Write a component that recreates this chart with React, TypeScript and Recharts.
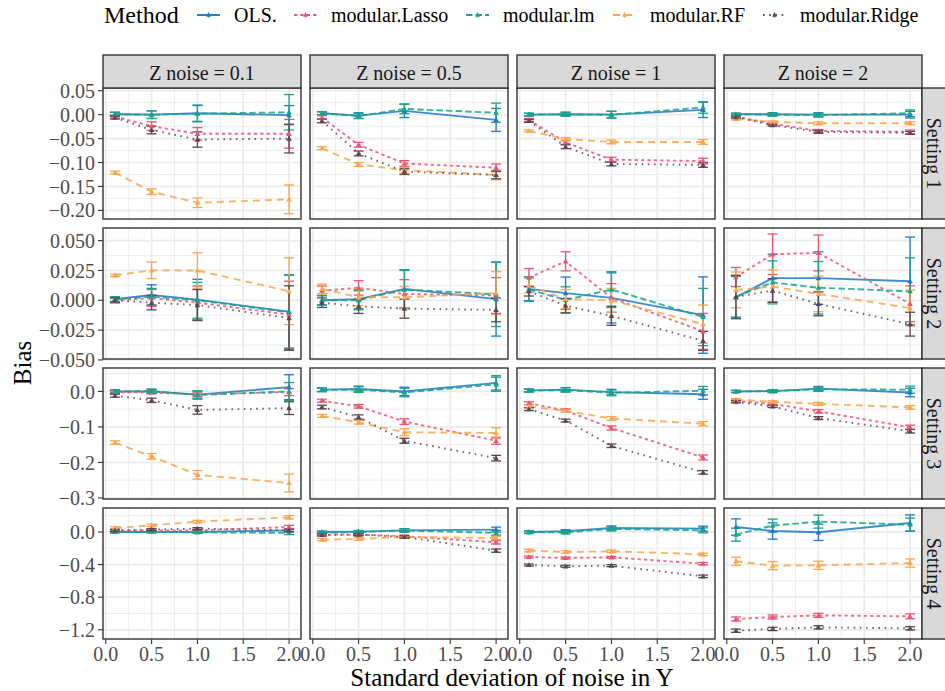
import React from 'react';
import { LineChart, Line, XAxis, YAxis, CartesianGrid, ErrorBar } from 'recharts';

const FONT = '"Liberation Serif", "Times New Roman", serif';

// ---------- categories / labels ----------
const sdY = [0.1, 0.5, 1, 2];
const zNoiseLabels = ['Z noise = 0.1', 'Z noise = 0.5', 'Z noise = 1', 'Z noise = 2'];
const settingLabels = ['Setting 1', 'Setting 2', 'Setting 3', 'Setting 4'];
const methodNames = ['OLS.', 'modular.Lasso', 'modular.lm', 'modular.RF', 'modular.Ridge'];
const methodKeys = ['ols', 'lasso', 'lm', 'rf', 'ridge'];
const methodColors = ['#1F78C8', '#EE5470', '#18A683', '#F9A64C', '#5D4653'];
const methodDash = ['', '3.2 3.2', '6.4 3.2', '7 5', '1.6 4.6'];

const xTicks = [0, 0.5, 1, 1.5, 2];
const xMinor = [0.25, 0.75, 1.25, 1.75];
const xDomain = [-0.03, 2.13];

const yTicks1 = [-0.2, -0.15, -0.1, -0.05, 0, 0.05];
const yTicks2 = [-0.05, -0.025, 0, 0.025, 0.05];
const yTicks3 = [-0.3, -0.2, -0.1, 0];
const yTicks4 = [-1.2, -0.8, -0.4, 0];
const yMinor1 = [-0.175, -0.125, -0.075, -0.025, 0.025];
const yMinor2 = [-0.0375, -0.0125, 0.0125, 0.0375];
const yMinor3 = [-0.25, -0.15, -0.05, 0.05];
const yMinor4 = [-1.0, -0.6, -0.2, 0.2];
const yDomain1 = [-0.218, 0.0557];
const yDomain2 = [-0.0492, 0.0606];
const yDomain3 = [-0.303, 0.066];
const yDomain4 = [-1.313, 0.294];
const yDecimals = [2, 3, 1, 1];

// ---------- values: each array = [Z noise 0.1, 0.5, 1, 2], each inner = sd of noise in Y [0.1, 0.5, 1, 2] ----------
// Setting 1
const s1Ols = [[0.001, 0.0, 0.003, -0.001], [0.003, -0.002, 0.008, -0.011], [0.0, 0.001, 0.0, 0.01], [0.001, 0.001, 0.0, 0.0]];
const s1OlsErr = [[0.004, 0.008, 0.017, 0.02], [0.003, 0.006, 0.014, 0.024], [0.003, 0.004, 0.007, 0.016], [0.002, 0.003, 0.004, 0.007]];
const s1Lasso = [[-0.004, -0.024, -0.04, -0.04], [-0.006, -0.063, -0.102, -0.111], [-0.011, -0.058, -0.094, -0.097], [-0.004, -0.019, -0.034, -0.036]];
const s1LassoErr = [[0.003, 0.009, 0.013, 0.03], [0.004, 0.005, 0.006, 0.008], [0.003, 0.004, 0.005, 0.006], [0.002, 0.003, 0.003, 0.004]];
const s1Lm = [[0.001, 0.0, 0.002, 0.005], [0.003, -0.003, 0.012, 0.004], [0.0, 0.001, 0.0, 0.015], [0.001, 0.0, -0.001, 0.003]];
const s1LmErr = [[0.004, 0.008, 0.017, 0.037], [0.003, 0.005, 0.01, 0.02], [0.003, 0.004, 0.007, 0.012], [0.002, 0.003, 0.004, 0.007]];
const s1Rf = [[-0.121, -0.161, -0.184, -0.177], [-0.07, -0.104, -0.116, -0.126], [-0.034, -0.051, -0.057, -0.057], [-0.009, -0.015, -0.018, -0.018]];
const s1RfErr = [[0.003, 0.006, 0.01, 0.03], [0.003, 0.004, 0.006, 0.01], [0.002, 0.003, 0.004, 0.005], [0.002, 0.002, 0.003, 0.003]];
const s1Ridge = [[-0.006, -0.032, -0.052, -0.05], [-0.013, -0.081, -0.119, -0.126], [-0.013, -0.067, -0.103, -0.105], [-0.005, -0.022, -0.036, -0.038]];
const s1RidgeErr = [[0.003, 0.008, 0.016, 0.03], [0.004, 0.005, 0.006, 0.008], [0.003, 0.004, 0.004, 0.005], [0.002, 0.002, 0.003, 0.003]];

// Setting 2
const s2Ols = [[0.001, 0.0045, 0.0006, -0.0096], [0.0, 0.001, 0.0096, 0.001], [0.0096, 0.006, 0.002, -0.0124], [0.0025, 0.0186, 0.0186, 0.016]];
const s2OlsErr = [[0.002, 0.0085, 0.017, 0.031], [0.004, 0.008, 0.016, 0.031], [0.01, 0.0135, 0.021, 0.032], [0.018, 0.02, 0.022, 0.037]];
const s2Lasso = [[0.0, 0.002, -0.002, -0.012], [0.008, 0.0104, 0.0053, 0.004], [0.0189, 0.0327, 0.002, -0.026], [0.0195, 0.0386, 0.0397, -0.003]];
const s2LassoErr = [[0.002, 0.007, 0.014, 0.028], [0.004, 0.006, 0.012, 0.015], [0.0077, 0.008, 0.012, 0.015], [0.008, 0.017, 0.015, 0.015]];
const s2Lm = [[0.001, 0.003, 0.0, -0.01], [0.0, 0.0, 0.009, 0.005], [0.009, 0.0003, 0.009, -0.014], [0.003, 0.015, 0.0105, 0.0076]];
const s2LmErr = [[0.002, 0.007, 0.015, 0.031], [0.004, 0.008, 0.016, 0.027], [0.01, 0.011, 0.015, 0.024], [0.017, 0.018, 0.022, 0.028]];
const s2Rf = [[0.0209, 0.0251, 0.025, 0.0076], [0.0096, 0.0025, 0.0025, 0.006], [0.0124, 0.001, 0.0, -0.02], [0.0087, 0.0115, 0.0054, -0.0065]];
const s2RfErr = [[0.001, 0.0069, 0.0148, 0.028], [0.004, 0.007, 0.009, 0.018], [0.006, 0.008, 0.01, 0.016], [0.015, 0.014, 0.015, 0.015]];
const s2Ridge = [[0.0, -0.002, -0.004, -0.0149], [-0.002, -0.005, -0.007, -0.008], [0.0076, -0.0045, -0.013, -0.034], [0.003, 0.0081, -0.003, -0.02]];
const s2RidgeErr = [[0.002, 0.006, 0.013, 0.027], [0.004, 0.006, 0.008, 0.01], [0.004, 0.006, 0.008, 0.008], [0.018, 0.01, 0.01, 0.01]];

// Setting 3
const s3Ols = [[0.0, 0.0, -0.009, 0.012], [0.005, 0.007, 0.0, 0.024], [0.003, 0.005, -0.002, -0.008], [0.0, 0.001, 0.008, -0.003]];
const s3OlsErr = [[0.004, 0.005, 0.01, 0.035], [0.005, 0.008, 0.012, 0.02], [0.004, 0.006, 0.008, 0.014], [0.003, 0.004, 0.006, 0.012]];
const s3Lasso = [[-0.002, -0.003, -0.008, -0.002], [-0.026, -0.042, -0.085, -0.139], [-0.033, -0.054, -0.103, -0.186], [-0.027, -0.035, -0.056, -0.101]];
const s3LassoErr = [[0.003, 0.004, 0.006, 0.01], [0.004, 0.005, 0.008, 0.01], [0.004, 0.005, 0.006, 0.007], [0.003, 0.004, 0.005, 0.006]];
const s3Lm = [[0.0, 0.001, -0.01, 0.0], [0.004, 0.005, -0.003, 0.02], [0.002, 0.004, -0.004, 0.002], [0.0, 0.001, 0.006, 0.005]];
const s3LmErr = [[0.005, 0.006, 0.012, 0.025], [0.005, 0.008, 0.012, 0.02], [0.004, 0.006, 0.008, 0.012], [0.003, 0.004, 0.006, 0.01]];
const s3Rf = [[-0.144, -0.183, -0.235, -0.258], [-0.069, -0.087, -0.115, -0.117], [-0.042, -0.055, -0.076, -0.091], [-0.023, -0.029, -0.035, -0.045]];
const s3RfErr = [[0.005, 0.008, 0.012, 0.025], [0.004, 0.005, 0.01, 0.015], [0.004, 0.004, 0.005, 0.006], [0.003, 0.003, 0.004, 0.005]];
const s3Ridge = [[-0.012, -0.025, -0.052, -0.047], [-0.044, -0.072, -0.139, -0.188], [-0.05, -0.082, -0.153, -0.228], [-0.029, -0.042, -0.075, -0.112]];
const s3RidgeErr = [[0.004, 0.006, 0.012, 0.018], [0.005, 0.006, 0.007, 0.008], [0.004, 0.004, 0.005, 0.005], [0.003, 0.003, 0.004, 0.005]];

// Setting 4
const s4Ols = [[0.0, 0.0, 0.0, 0.02], [0.0, 0.004, 0.02, 0.029], [0.0, 0.008, 0.049, 0.041], [0.061, 0.012, -0.004, 0.11]];
const s4OlsErr = [[0.01, 0.01, 0.012, 0.02], [0.012, 0.015, 0.02, 0.03], [0.015, 0.02, 0.025, 0.03], [0.1, 0.1, 0.1, 0.1]];
const s4Lasso = [[0.016, 0.02, 0.02, 0.061], [-0.033, -0.033, -0.053, -0.127], [-0.307, -0.319, -0.311, -0.389], [-1.068, -1.043, -1.023, -1.035]];
const s4LassoErr = [[0.015, 0.015, 0.015, 0.02], [0.015, 0.015, 0.015, 0.02], [0.012, 0.012, 0.012, 0.015], [0.025, 0.025, 0.025, 0.03]];
const s4Lm = [[0.0, 0.0, -0.004, -0.012], [-0.01, 0.0, 0.018, -0.01], [-0.004, -0.004, 0.037, 0.02], [-0.033, 0.078, 0.127, 0.09]];
const s4LmErr = [[0.01, 0.01, 0.012, 0.02], [0.012, 0.015, 0.02, 0.03], [0.015, 0.02, 0.025, 0.03], [0.08, 0.08, 0.08, 0.08]];
const s4Rf = [[0.049, 0.082, 0.127, 0.18], [-0.094, -0.086, -0.061, -0.074], [-0.229, -0.245, -0.237, -0.274], [-0.36, -0.413, -0.409, -0.381]];
const s4RfErr = [[0.015, 0.015, 0.015, 0.02], [0.015, 0.015, 0.015, 0.02], [0.015, 0.015, 0.015, 0.015], [0.05, 0.05, 0.05, 0.05]];
const s4Ridge = [[0.02, 0.029, 0.041, 0.02], [-0.037, -0.033, -0.061, -0.229], [-0.405, -0.421, -0.413, -0.544], [-1.211, -1.19, -1.17, -1.182]];
const s4RidgeErr = [[0.012, 0.012, 0.012, 0.015], [0.012, 0.012, 0.015, 0.02], [0.012, 0.012, 0.012, 0.015], [0.02, 0.02, 0.02, 0.02]];

const valuesBySetting = [
  [s1Ols, s1Lasso, s1Lm, s1Rf, s1Ridge],
  [s2Ols, s2Lasso, s2Lm, s2Rf, s2Ridge],
  [s3Ols, s3Lasso, s3Lm, s3Rf, s3Ridge],
  [s4Ols, s4Lasso, s4Lm, s4Rf, s4Ridge],
];
const errorsBySetting = [
  [s1OlsErr, s1LassoErr, s1LmErr, s1RfErr, s1RidgeErr],
  [s2OlsErr, s2LassoErr, s2LmErr, s2RfErr, s2RidgeErr],
  [s3OlsErr, s3LassoErr, s3LmErr, s3RfErr, s3RidgeErr],
  [s4OlsErr, s4LassoErr, s4LmErr, s4RfErr, s4RidgeErr],
];
const yTicksBySetting = [yTicks1, yTicks2, yTicks3, yTicks4];
const yMinorBySetting = [yMinor1, yMinor2, yMinor3, yMinor4];
const yDomainBySetting = [yDomain1, yDomain2, yDomain3, yDomain4];

// ---------- layout ----------
const W = 945;
const H = 691;
const PANEL_W = 198;
const PANEL_H = 131;
const panelLeft = (c: number) => 103 + c * 207;
const panelTop = (r: number) => 88 + r * 140;
const STRIP_TOP = 55;
const STRIP_H = 33;
const legendX = [197, 294, 466, 613, 763];

function buildPanelData(r: number, c: number) {
  const vals = valuesBySetting[r];
  const errs = errorsBySetting[r];
  return sdY.map((x, i) => {
    const row: any = { x };
    methodKeys.forEach((k, m) => {
      row[k] = vals[m][c][i];
      row[k + '_e'] = errs[m][c][i];
    });
    return row;
  });
}

const makeDot = (color: string) => (props: any) => {
  const { cx, cy, index } = props;
  if (cx == null || cy == null) return <g key={`e${index}`} />;
  const s = 2.8;
  return (
    <polygon
      key={`d${index}`}
      points={`${cx},${cy - s} ${cx - s},${cy + s * 0.75} ${cx + s},${cy + s * 0.75}`}
      fill={color}
    />
  );
};

const fmt = (dec: number) => (v: number) => v.toFixed(dec).replace('-', '\u2212');

function Panel({ r, c }: { r: number; c: number }) {
  const data = buildPanelData(r, c);
  const isLeft = c === 0;
  const isBottom = r === 3;
  const L = isLeft ? 100 : 16;
  const R = 16;
  const T = 14;
  const B = isBottom ? 0 : 14;
  const axisH = isBottom ? 34 : 0;
  const cw = L + PANEL_W + R;
  const ch = T + PANEL_H + B + axisH;
  return (
    <div style={{ position: 'absolute', left: panelLeft(c) - L, top: panelTop(r) - T, width: cw, height: ch }}>
      <LineChart width={cw} height={ch} data={data} margin={{ top: T, right: R, bottom: B, left: isLeft ? 0 : L }}>
        <CartesianGrid
          horizontalValues={yMinorBySetting[r]}
          verticalValues={xMinor}
          stroke="#EBEBEB"
          strokeWidth={0.9}
        />
        <CartesianGrid
          horizontalValues={yTicksBySetting[r]}
          verticalValues={xTicks}
          stroke="#EBEBEB"
          strokeWidth={1.7}
        />
        <XAxis
          dataKey="x"
          type="number"
          domain={xDomain}
          ticks={xTicks}
          interval={0}
          allowDataOverflow
          hide={!isBottom}
          height={axisH}
          axisLine={false}
          tickLine={{ stroke: '#333333', strokeWidth: 1.1 }}
          tickSize={5}
          tickMargin={3}
          tickFormatter={fmt(1)}
          tick={{ fontSize: 20, fill: '#4D4D4D', fontFamily: FONT }}
        />
        <YAxis
          type="number"
          domain={yDomainBySetting[r]}
          ticks={yTicksBySetting[r]}
          interval={0}
          allowDataOverflow
          hide={!isLeft}
          width={isLeft ? 100 : 0}
          axisLine={false}
          tickLine={{ stroke: '#333333', strokeWidth: 1.1 }}
          tickSize={5}
          tickMargin={3}
          tickFormatter={fmt(yDecimals[r])}
          tick={{ fontSize: 20, fill: '#4D4D4D', fontFamily: FONT }}
        />
        {methodKeys.map((k, m) => (
          <Line
            key={k}
            type="linear"
            dataKey={k}
            stroke={methodColors[m]}
            strokeWidth={1.9}
            strokeOpacity={0.85}
            strokeDasharray={methodDash[m] || undefined}
            dot={makeDot(methodColors[m])}
            activeDot={false}
            isAnimationActive={false}
          >
            <ErrorBar
              dataKey={k + '_e'}
              width={5}
              stroke={methodColors[m]}
              strokeWidth={1.3}
              direction="y"
              isAnimationActive={false}
            />
          </Line>
        ))}
      </LineChart>
    </div>
  );
}

function Overlay() {
  const items: any[] = [];
  for (let r = 0; r < 4; r++) {
    for (let c = 0; c < 4; c++) {
      items.push(
        <rect
          key={`b${r}${c}`}
          x={panelLeft(c)}
          y={panelTop(r)}
          width={PANEL_W}
          height={PANEL_H}
          fill="none"
          stroke="#333333"
          strokeWidth={1.4}
        />
      );
    }
  }
  zNoiseLabels.forEach((lab, c) => {
    items.push(
      <g key={`ts${c}`}>
        <rect x={panelLeft(c)} y={STRIP_TOP} width={PANEL_W} height={STRIP_H} fill="#D9D9D9" stroke="#333333" strokeWidth={1.4} />
        <text x={panelLeft(c) + PANEL_W / 2} y={STRIP_TOP + STRIP_H / 2 + 1} textAnchor="middle" dominantBaseline="central" fontSize={20} fill="#1A1A1A" fontFamily={FONT}>
          {lab}
        </text>
      </g>
    );
  });
  settingLabels.forEach((lab, r) => {
    const cx = 934;
    const cy = panelTop(r) + PANEL_H / 2;
    items.push(
      <g key={`rs${r}`}>
        <rect x={panelLeft(3) + PANEL_W} y={panelTop(r)} width={33} height={PANEL_H} fill="#D9D9D9" stroke="#333333" strokeWidth={1.4} />
        <text x={cx} y={cy} textAnchor="middle" dominantBaseline="central" fontSize={20} fill="#1A1A1A" fontFamily={FONT} transform={`rotate(90 ${cx} ${cy})`}>
          {lab}
        </text>
      </g>
    );
  });
  return (
    <svg width={W} height={H} style={{ position: 'absolute', left: 0, top: 0, pointerEvents: 'none' }}>
      {items}
      <text x={512} y={677} textAnchor="middle" dominantBaseline="central" fontSize={25} fill="#000" fontFamily={FONT}>
        Standard deviation of noise in Y
      </text>
      <text x={22} y={363} textAnchor="middle" dominantBaseline="central" fontSize={25} fill="#000" fontFamily={FONT} transform="rotate(-90 22 363)">
        Bias
      </text>
      <text x={104} y={15} dominantBaseline="central" fontSize={24} fill="#000" fontFamily={FONT}>
        Method
      </text>
      {methodNames.map((name, m) => {
        const x = legendX[m];
        const col = methodColors[m];
        return (
          <g key={`lg${m}`}>
            <line x1={x} x2={x + 23} y1={15} y2={15} stroke={col} strokeWidth={1.9} strokeDasharray={methodDash[m] || undefined} />
            <line x1={x + 11.5} x2={x + 11.5} y1={12.5} y2={17.5} stroke={col} strokeWidth={1.2} />
            <polygon points={`${x + 11.5},${12.3} ${x + 9.1},${16.7} ${x + 13.9},${16.7}`} fill={col} />
            <text x={x + 37} y={15} dominantBaseline="central" fontSize={20} fill="#000" fontFamily={FONT}>
              {name}
            </text>
          </g>
        );
      })}
    </svg>
  );
}

export default function App() {
  const panels: any[] = [];
  for (let r = 0; r < 4; r++) {
    for (let c = 0; c < 4; c++) {
      panels.push(<Panel key={`p${r}${c}`} r={r} c={c} />);
    }
  }
  return (
    <div style={{ position: 'absolute', left: 0, top: 0, width: W, height: H, overflow: 'hidden', background: '#fff', fontFamily: FONT }}>
      {panels}
      <Overlay />
    </div>
  );
}
